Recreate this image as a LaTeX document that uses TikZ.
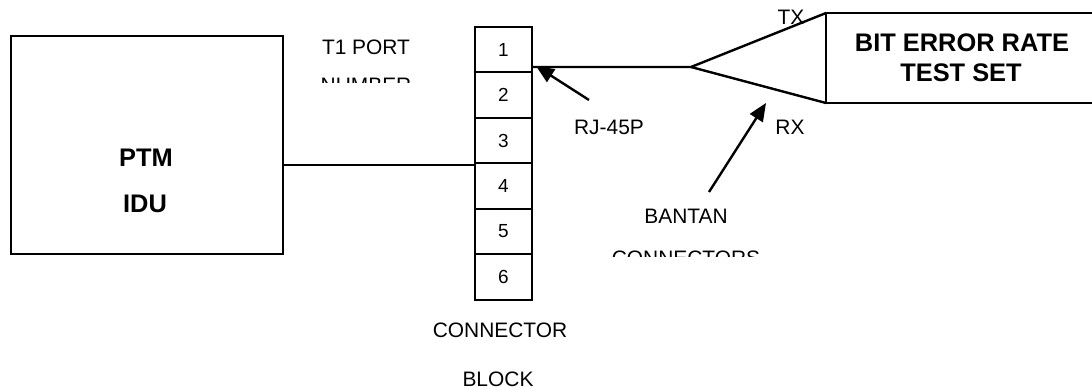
\documentclass[tikz,border=0pt]{standalone}
\usepackage{fontspec}
\setmainfont{Liberation Sans}
\usetikzlibrary{arrows.meta}
\tikzset{
  ln/.style={line width=2.4bp, line cap=round, line join=miter},
  txt/.style={anchor=base, inner sep=0pt, font=\fontsize{21}{25}\selectfont},
  btxt/.style={anchor=base, inner sep=0pt, font=\fontsize{25.5}{30}\selectfont\bfseries},
  cell/.style={draw, line width=2.4bp, minimum width=57bp, minimum height=45.5bp, inner sep=0pt, font=\fontsize{19}{22}\selectfont},
  pointer/.style={line width=2.4bp, -{Triangle[length=18bp,width=15bp]}},
}
\begin{document}
\begin{tikzpicture}[x=1bp,y=-1bp]
\useasboundingbox (0,0) rectangle (1092,387);
\clip (0,0) rectangle (1092,387);
% PTM IDU box
\node[draw, line width=2.4bp, minimum width=272bp, minimum height=218bp, inner sep=0pt] (ptm) at (147,145) {};
\node[btxt] (ptmA) at (146,166) {PTM};
\node[btxt] (ptmB) at (145,212) {IDU};
% connector block
\node[cell] (p1) at (503.5,49.5) {1};
\node[cell] (p2) at (503.5,95) {2};
\node[cell] (p3) at (503.5,140.5) {3};
\node[cell] (p4) at (503.5,186) {4};
\node[cell] (p5) at (503.5,231.5) {5};
\node[cell] (p6) at (503.5,277) {6};
% PTM to block
\draw[ln] (ptm.east |- 0,165) -- (p4.west |- 0,165);
% labels
\node[txt] (t1) at (366,54.5) {T1 PORT};
\begin{scope}
\clip (300,60) rectangle (440,82);
\node[txt] (num) at (366,92) {NUMBER};
\end{scope}
\node[txt] (cb1) at (500,337.5) {CONNECTOR};
\node[txt] (cb2) at (498,386) {BLOCK};
% cable
\coordinate (jack) at (532,67);
\coordinate (fork) at (691,67);
\coordinate (txend) at (826,13);
\coordinate (rxend) at (826,103);
\draw[ln] (jack) -- (fork) -- (txend);
\draw[ln] (fork) -- (rxend);
% BERT box (open to the right)
\node[inner sep=0pt, minimum width=266bp, minimum height=90bp] (bert) at (959,58) {};
\draw[ln] (bert.north east) -- (bert.north west) -- (bert.south west) -- (bert.south east);
\node[btxt] (bertA) at (962,51.3) {BIT ERROR RATE};
\node[btxt] (bertB) at (961,81.3) {TEST SET};
% TX / RX
\node[txt] (tx) at (791,24.5) {TX};
\node[txt] (rx) at (790,134.5) {RX};
% RJ-45P
\node[txt] (rj) at (609,134.5) {RJ-45P};
\coordinate (rjtail) at (589,100);
\coordinate (rjtip) at (536,66);
\draw[pointer] (rjtail) -- (rjtip);
% BANTAN
\node[txt] (ban) at (686,223.5) {BANTAN};
\begin{scope}
\clip (600,240) rectangle (780,256);
\node[txt] (banB) at (686,265) {CONNECTORS};
\end{scope}
\coordinate (bantail) at (709,192);
\coordinate (bantip) at (766,103);
\draw[pointer] (bantail) -- (bantip);
\end{tikzpicture}
\end{document}
